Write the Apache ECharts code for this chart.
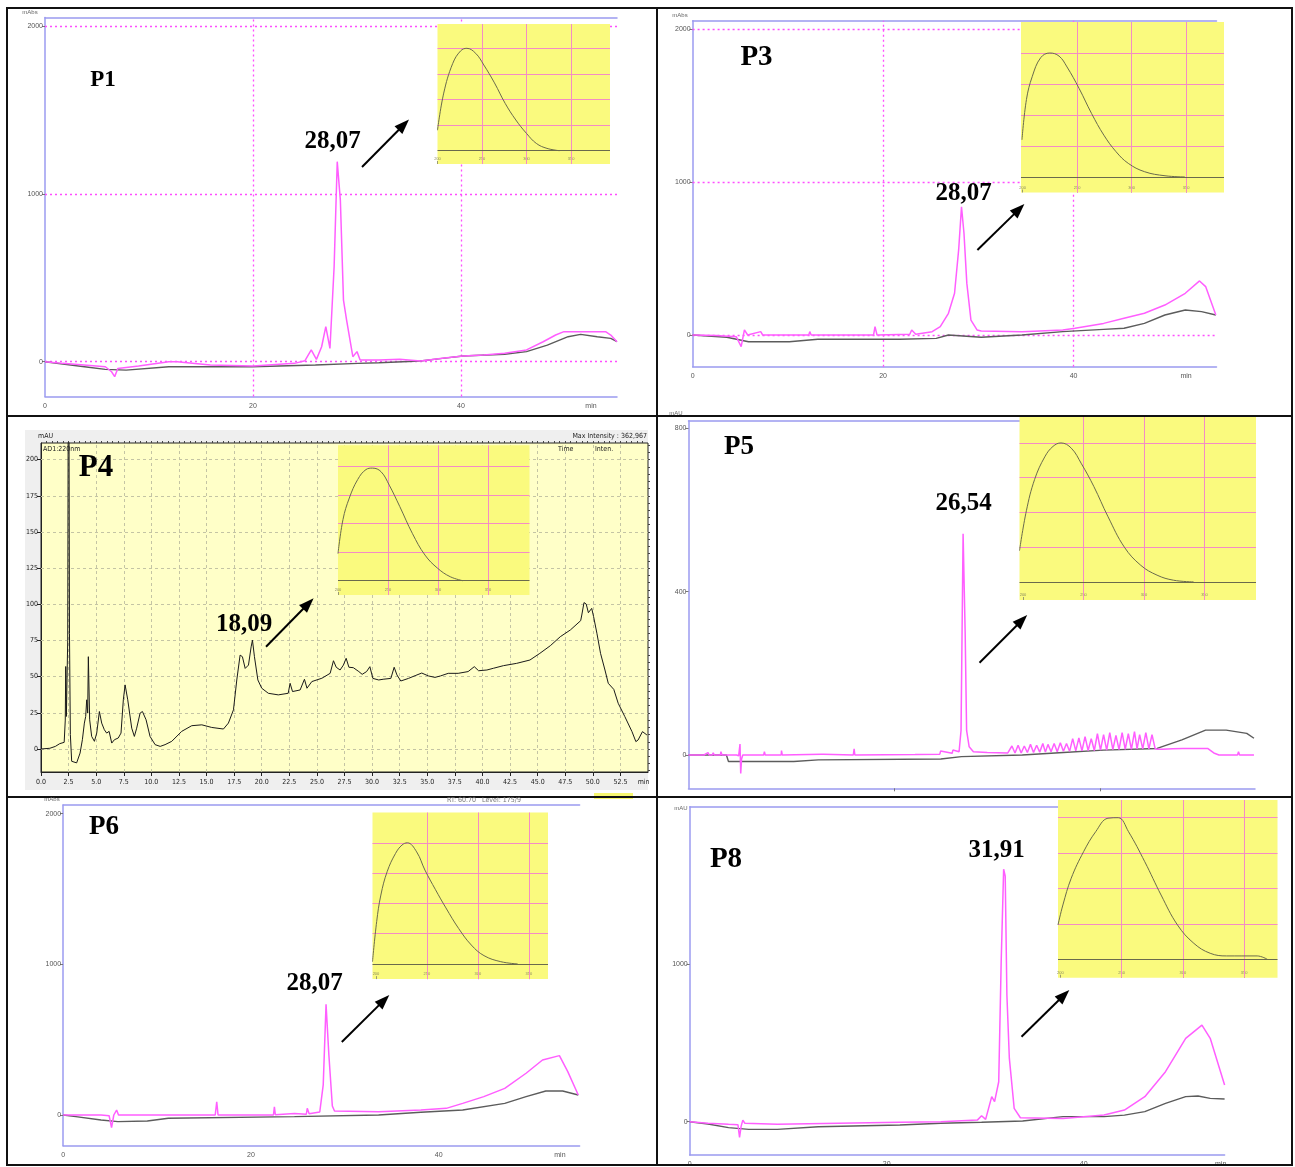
<!DOCTYPE html>
<html><head><meta charset="utf-8">
<script src="https://cdn.jsdelivr.net/npm/echarts@6/dist/echarts.min.js"></script>
<style>html,body{margin:0;padding:0;background:#fff}#c{width:1295px;height:1167px}</style>
</head><body><div id="c"></div>
<script>
// ================= DATA =================
// P1 chromatogram (min, mAbs)
const p1PinkT = [0, 1.7, 3.75, 5.8, 6.4, 6.7, 7.0, 9.0, 11.9, 12.7, 15.9, 20.0, 24.0, 25.0, 25.6, 26.1, 26.6, 27.0, 27.4, 27.8, 28.1, 28.4, 28.7, 29.0, 29.6, 30.0, 30.3, 32.1, 34.1, 36.1, 38.2, 40.2, 42.2, 44.2, 46.3, 47.9, 49.1, 49.9, 53.9, 54.4, 55.0];
const p1PinkV = [0, -10, -20, -30, -60, -89, -40, -26, 0, 0, -20, -26, -10, 6, 70, 14, 89, 209, 79, 566, 1192, 963, 367, 248, 30, 60, 10, 10, 14, 4, 20, 34, 40, 50, 70, 119, 159, 179, 179, 159, 119];
const p1GrayT = [0, 3.8, 5.8, 7.8, 11.9, 19.9, 26.0, 30.1, 32.1, 36.1, 38.2, 40.2, 44.2, 46.3, 48.3, 50.3, 51.5, 53.1, 54.4, 55.0];
const p1GrayV = [0, -30, -46, -50, -30, -30, -20, -10, -6, 4, 20, 34, 44, 60, 99, 149, 163, 149, 139, 119];

// P3
const p3PinkT = [0, 2.44, 4.58, 5.1, 5.44, 5.78, 7.15, 7.36, 12.2, 12.3, 12.45, 19.0, 19.15, 19.36, 22.8, 23.0, 23.43, 25.15, 26.0, 26.86, 27.5, 27.93, 28.23, 28.49, 28.79, 29.22, 29.86, 30.3, 34.58, 38.86, 40.15, 43.15, 45.29, 47.43, 49.58, 51.72, 53.22, 53.86, 54.93];
const p3PinkV = [0, -4, -11, -76, 33, 0, 22, 0, 0, 22, 0, 0, 55, 0, 5, 33, 5, 22, 55, 142, 273, 557, 840, 666, 338, 98, 33, 26, 22, 33, 44, 76, 109, 142, 196, 273, 354, 317, 131];
const p3GrayT = [0, 3.6, 5.87, 10.15, 13.15, 21.72, 25.58, 26.86, 30.3, 34.58, 38.86, 43.15, 45.29, 47.43, 49.58, 51.72, 53.43, 54.93];
const p3GrayV = [0, -15, -44, -44, -28, -28, -22, 0, -15, 0, 22, 37, 44, 76, 131, 164, 153, 131];

// P4 (min, mAU)
const p4Time = [
0.0, 0.8, 1.3, 1.7, 2.1, 2.2, 2.24, 2.3, 2.42, 2.5,
2.58, 2.66, 2.78, 2.93, 3.23, 3.54, 3.75, 3.93, 4.05, 4.14,
4.23, 4.29, 4.41, 4.59, 4.84, 5.05, 5.29, 5.5, 5.74, 5.95,
6.17, 6.41, 6.65, 7.0, 7.25, 7.46, 7.62, 7.86, 8.22, 8.46,
8.67, 8.98, 9.19, 9.52, 9.88, 10.34, 10.8, 11.24, 11.85, 12.75,
13.66, 14.57, 15.47, 16.53, 16.98, 17.44, 17.74, 18.04, 18.25, 18.5,
18.8, 19.04, 19.16, 19.34, 19.65, 20.0, 20.6, 21.5, 22.4, 22.57,
22.79, 23.48, 23.87, 24.1, 24.54, 25.45, 26.2, 26.5, 26.75, 27.1,
27.4, 27.65, 27.9, 28.3, 28.8, 29.1, 29.5, 29.8, 30.07, 30.6,
31.0, 31.7, 32.0, 32.25, 32.6, 33.3, 33.9, 34.5, 35.1, 35.7,
36.2, 36.9, 37.8, 38.7, 39.26, 39.65, 40.4, 41.0, 41.9, 43.1,
44.3, 45.2, 46.15, 47.05, 47.97, 48.9, 49.0, 49.2, 49.4, 49.6,
49.9, 50.07, 50.37, 50.7, 51.1, 51.4, 51.9, 52.3, 52.9, 53.55,
53.9, 54.1, 54.5, 54.9];
const p4Value = [
0, 0.5, 1.8, 3.7, 4.6, 20, 57, 22.5, 75, 363,
80, 10, -8.5, -9.6, -9.6, -2.8, 6.4, 17.9, 22.5, 34,
24.8, 63.8, 20.2, 8.7, 5.3, 11, 25.9, 17.9, 13.3, 11,
12.2, 4.1, 6.4, 7.6, 11, 34, 44.3, 34, 14.4, 8.7,
14.4, 24.8, 25.9, 20.2, 8.7, 3, 1.8, 3, 5.3, 12.2,
16.1, 16.7, 14.9, 13.8, 17.9, 27.1, 47.7, 64.9, 63.8, 55.7,
58, 70.6, 75.2, 63.8, 47.7, 42, 38.5, 37.4, 38.5, 45.4,
39.7, 40.8, 48.2, 42, 46.6, 48.9, 52.3, 61, 56.5, 54.6,
58, 62.7, 56.5, 56.2, 53.5, 51.6, 53.5, 56.9, 48.8, 47.7,
48.2, 48.8, 56.5, 51.2, 47, 48.8, 50.7, 52.5, 50.5, 49.5,
50.5, 52.3, 52.3, 53.5, 56.9, 54.1, 54.6, 55.8, 57.6, 59.2,
61.5, 66.1, 71.4, 77.6, 82.3, 88.7, 92.6, 101.2, 100.2, 94.2,
97.2, 91.5, 80, 66.1, 54.6, 45.4, 41.2, 31.6, 22.4, 12,
5.1, 6.2, 12, 9.7];

// P5
const p5PinkT = [0, 1.5, 1.9, 2.0, 2.3, 2.4, 2.5, 3.1, 3.15, 3.25,
4.67, 4.87, 5.0, 5.07, 5.15, 5.27, 7.3, 7.37, 7.45, 9.0,
9.03, 9.1, 12.9, 13.0, 13.1, 16.0, 16.08, 16.15, 22.0, 22.11,
24.4, 24.48, 25.6, 25.67, 26.27, 26.46, 26.66, 26.86, 27.0, 27.25,
27.66, 29.0, 29.04, 29.1, 31.0, 31.4, 31.7, 32.0, 32.3, 32.6,
32.9, 33.2, 33.5, 33.8, 34.1, 34.4, 34.65, 34.9, 35.2, 35.5,
35.8, 36.1, 36.4, 36.7, 37.0, 37.3, 37.6, 37.9, 38.2, 38.5,
38.8, 39.1, 39.4, 39.7, 40.0, 40.3, 40.6, 40.9, 41.2, 41.5,
41.8, 42.1, 42.4, 42.7, 43.0, 43.3, 43.55, 43.8, 44.1, 44.4,
44.7, 45.0, 45.3, 45.5, 46.0, 47.0, 48.0, 49.0, 50.4, 51.0,
51.5, 52.5, 53.3, 53.4, 53.5, 54.9];
const p5PinkV = [0, 0, 6, 0, 0, 5, 0, 0, 8, 0,
0, -2, 27, -45, -10, 0, 0, 8, 0, 0,
11, 0, 2, 5, 2, 0, 15, 0, 1, 5,
2, 10, 4, 12, 8, 60, 542, 300, 60, 20,
8, 6, 10, 6, 5, 22, 5, 24, 5, 22,
6, 26, 6, 24, 7, 28, 7, 26, 8, 28,
8, 30, 9, 28, 9, 40, 10, 42, 10, 45,
11, 40, 11, 52, 12, 50, 12, 55, 13, 48,
13, 55, 14, 52, 14, 57, 15, 50, 15, 55,
15, 50, 16, 14, 14, 15, 16, 16, 16, 5,
0, 0, 0, 8, 0, 0];
const p5GrayT = [0, 3.68, 3.88, 10.22, 12.6, 24.5, 26.5, 32.4, 36.4, 40.3, 45.5, 47.9, 50.2, 52.2, 54.2, 54.9];
const p5GrayV = [0, 0, -16, -16, -12, -10, -4, 0, 6, 12, 16, 37, 61, 61, 53, 41];

// P6
const p6PinkT = [0, 4.04, 4.9, 5.16, 5.4, 5.7, 5.9, 16.2, 16.36, 16.5, 18.3, 18.4, 18.5, 22.4, 22.5, 22.6, 24.64, 25.9, 26.0, 26.2, 27.33, 27.7, 28.0, 28.3, 28.67, 28.9, 33.6, 38.1, 40.8, 42.55, 44.8, 47.03, 49.3, 51.05, 52.85, 53.74, 54.86];
const p6PinkV = [0, 0, -5, -84, 0, 33, 0, 0, 88, 0, 0, 11, 0, 0, 55, 2, 10, 5, 44, 8, 20, 200, 734, 400, 60, 26, 22, 33, 44, 77, 122, 177, 277, 365, 394, 288, 133];
const p6GrayT = [0, 1.36, 4.04, 5.84, 8.97, 11.2, 24.64, 33.6, 38.1, 42.55, 47.03, 49.3, 51.4, 53.2, 54.86];
const p6GrayV = [0, -11, -33, -44, -40, -22, -11, 0, 18, 33, 77, 122, 159, 159, 133];

// P8
const p8PinkT = [0, 1.86, 3.94, 4.9, 5.06, 5.22, 5.39, 5.6, 8.9, 21.34, 25.5, 29.2, 29.63, 30.04, 30.66, 30.95, 31.37, 31.62, 31.87, 32.03, 32.2, 32.45, 32.94, 33.57, 37.9, 42.06, 44.13, 46.2, 48.3, 50.35, 52.0, 52.84, 54.3];
const p8PinkV = [0, -10, -17, -20, -100, -30, 10, -10, -17, -4, 0, 10, 38, 15, 159, 127, 254, 1017, 1605, 1560, 805, 402, 85, 25, 21, 42, 74, 159, 318, 530, 614, 530, 233];
const p8GrayT = [0, 1.86, 3.94, 6.0, 8.9, 13.05, 21.34, 25.5, 29.63, 33.8, 37.9, 42.06, 44.13, 46.2, 48.3, 50.35, 51.6, 52.84, 54.3];
const p8GrayV = [0, -15, -38, -49, -49, -32, -21, -10, -4, 4, 32, 32, 42, 64, 116, 159, 163, 148, 144];

// UV spectra in the insets (nm, relative absorbance)
const i1Wave = [200, 207, 217, 226, 233, 243, 252, 264, 276, 288, 300, 311, 323, 337];
const i1Abs  = [0.16, 0.45, 0.68, 0.78, 0.80, 0.76, 0.67, 0.53, 0.37, 0.24, 0.135, 0.057, 0.018, 0.0];
const i3Wave = [199.5, 203.6, 209, 216.7, 225, 233.5, 240.8, 252, 263.3, 274.6, 285.8, 297, 312, 330.7, 349];
const i3Abs  = [0.24, 0.50, 0.65, 0.77, 0.80, 0.78, 0.71, 0.57, 0.41, 0.27, 0.163, 0.088, 0.034, 0.008, 0];
const i4Wave = [200, 205, 211.3, 219.7, 228, 234.5, 243, 251.3, 261.8, 274.5, 287, 299.7, 312.3, 325];
const i4Abs  = [0.19, 0.43, 0.58, 0.71, 0.78, 0.79, 0.765, 0.67, 0.52, 0.33, 0.18, 0.087, 0.028, 0.0];
const i5Wave = [197.1, 202.8, 209.6, 218, 224.8, 231.4, 239.9, 248.3, 258.5, 270.3, 283.8, 297.3, 310.8, 324.3, 341];
const i5Abs  = [0.18, 0.41, 0.59, 0.72, 0.78, 0.80, 0.77, 0.68, 0.55, 0.375, 0.20, 0.096, 0.039, 0.01, 0];
const i6Wave = [196.6, 200.7, 204.8, 211, 219.2, 225.5, 230.8, 239.9, 248, 258.4, 268.6, 281, 293.5, 305.9, 322.4, 339];
const i6Abs  = [0.015, 0.28, 0.455, 0.61, 0.73, 0.785, 0.80, 0.74, 0.62, 0.49, 0.37, 0.235, 0.125, 0.055, 0.015, 0];
const i8Wave = [198, 202, 208.8, 218.9, 228.8, 238.8, 247.2, 255.6, 268.9, 282.2, 295.6, 309, 322.3, 335.7, 360.7, 369];
const i8Abs  = [0.194, 0.307, 0.458, 0.608, 0.721, 0.797, 0.80, 0.721, 0.551, 0.363, 0.194, 0.09, 0.034, 0.019, 0.019, 0];

// tick labels / grid positions
const MAIN_Y_TICKS = [0, 1000, 2000];
const P8_Y_TICKS = [0, 1000];
const P5_Y_TICKS = [0, 400, 800];
const MAIN_X_TICKS = [0, 20, 40];
const MAIN_X_GRID = [20, 40];
const P4_X_TICKS = [0, 2.5, 5, 7.5, 10, 12.5, 15, 17.5, 20, 22.5, 25, 27.5, 30, 32.5, 35, 37.5, 40, 42.5, 45, 47.5, 50, 52.5];
const P4_Y_TICKS = [0, 25, 50, 75, 100, 125, 150, 175, 200];
const INSET_X_TICKS = [200, 250, 300, 350];
const INSET_X_GRID = [250, 300, 350];
const INSET_Y_GRID = [0.2, 0.4, 0.6, 0.8];

// ================= LAYOUT / STYLE =================
const SANS = "'Liberation Sans', 'DejaVu Sans', sans-serif";
const NARROW = "'Liberation Sans Narrow', 'DejaVu Sans Condensed', 'Liberation Sans', sans-serif";
const SERIF = "'Liberation Serif', 'DejaVu Serif', serif";
const PINK = '#ff5eff';
const GRAYLINE = '#5c5c5c';
const AXBLUE = '#9b9bf0';
const INSET_YELLOW = '#fafa7e';

const pairs = (t, v) => t.map((x, i) => [x, v[i]]);

const grids = [], xAxes = [], yAxes = [], series = [];

function addMain(cfg) {
  const gi = grids.length;
  grids.push({left: cfg.left, top: cfg.top, width: cfg.width, height: cfg.height, outerBoundsMode: 'none', containLabel: false});
  const xi = xAxes.length;
  const xLabelVals = cfg.xLabels ? cfg.xLabels.concat(cfg.minPos != null ? [cfg.minPos] : []) : [];
  xAxes.push({type: 'value', gridIndex: gi, min: 0, max: cfg.xMax, position: 'bottom',
    axisLine: {show: true, onZero: false, lineStyle: {color: AXBLUE, width: 1.5}},
    axisTick: {show: !!cfg.xTickMarks, customValues: cfg.xTickMarks || [0], length: 3, lineStyle: {color: '#777'}},
    axisLabel: {show: !!cfg.xLabels, customValues: xLabelVals.length ? xLabelVals : [0], fontSize: 7, color: '#555', margin: 6, fontFamily: SANS,
      formatter: v => (v === cfg.minPos ? 'min' : String(v))},
    splitLine: {show: false}});
  xAxes.push({type: 'value', gridIndex: gi, min: 0, max: cfg.xMax, position: 'top',
    axisLine: {show: true, onZero: false, lineStyle: {color: AXBLUE, width: 1.5}},
    axisTick: {show: false}, axisLabel: {show: false}, splitLine: {show: false}});
  const yi = yAxes.length;
  yAxes.push({type: 'value', gridIndex: gi, min: cfg.yMin, max: cfg.yMax, position: 'left',
    axisLine: {show: true, onZero: false, lineStyle: {color: AXBLUE, width: 1.5}},
    axisTick: {show: true, customValues: cfg.yTicks, length: 3, lineStyle: {color: '#777'}},
    axisLabel: {customValues: cfg.yTicks, fontSize: 7, color: '#555', margin: 2, fontFamily: SANS, formatter: v => String(v)},
    splitLine: {show: false}});
  const gray = {type: 'line', xAxisIndex: xi, yAxisIndex: yi, data: pairs(cfg.grayT, cfg.grayV),
    symbol: 'none', lineStyle: {color: GRAYLINE, width: 1.4}, z: 3, silent: true, animation: false};
  if (cfg.gridLines) {
    gray.markLine = {silent: true, z: 2, symbol: ['none', 'none'], label: {show: false}, animation: false,
      lineStyle: {color: '#ff4dff', type: [2, 3], width: 1.3},
      data: cfg.yTicks.map(v => ({yAxis: v})).concat(MAIN_X_GRID.map(v => ({xAxis: v})))};
  }
  series.push(gray);
  series.push({type: 'line', xAxisIndex: xi, yAxisIndex: yi, data: pairs(cfg.pinkT, cfg.pinkV),
    symbol: 'none', lineStyle: {color: PINK, width: 1.5}, z: 4, silent: true, animation: false});
}

function addInset(cfg) {
  const gi = grids.length;
  grids.push({left: cfg.left, top: cfg.top, width: cfg.width, height: cfg.height, outerBoundsMode: 'none',
    show: true, backgroundColor: INSET_YELLOW, borderWidth: 0, z: 50});
  const xi = xAxes.length;
  xAxes.push({type: 'value', gridIndex: gi, min: cfg.xMin, max: cfg.xMax, z: 61,
    axisLine: {show: false, onZero: false},
    axisTick: {show: true, inside: true, customValues: INSET_X_TICKS, length: 3, lineStyle: {color: '#9a9a70'}},
    axisLabel: {inside: true, customValues: INSET_X_TICKS, fontSize: 4, color: '#8a8a60', margin: 3, formatter: v => String(v)},
    splitLine: {show: false}});
  const yi = yAxes.length;
  yAxes.push({type: 'value', gridIndex: gi, min: cfg.yMin, max: cfg.yMax, z: 61, show: false,
    axisLine: {show: false, onZero: false}, splitLine: {show: false}});
  series.push({type: 'line', xAxisIndex: xi, yAxisIndex: yi, data: pairs(cfg.wave, cfg.abs),
    smooth: 0.4, symbol: 'none', lineStyle: {color: '#6a6a4c', width: 1}, z: 63, silent: true, animation: false,
    markLine: {silent: true, z: 62, symbol: ['none', 'none'], label: {show: false}, animation: false,
      lineStyle: {color: '#f48cc4', type: 'solid', width: 1},
      data: INSET_Y_GRID.map(v => ({yAxis: v})).concat(INSET_X_GRID.map(v => ({xAxis: v})))
        .concat([{yAxis: 0, lineStyle: {color: '#6a6a4c', type: 'solid', width: 1}}])}});
}

// ---- main chromatograms ----
addMain({left: 45, top: 17.5, width: 572, height: 379.1, xMax: 55, yMin: -208, yMax: 2051, minPos: 52.5,
  xLabels: MAIN_X_TICKS, yTicks: MAIN_Y_TICKS, gridLines: true,
  pinkT: p1PinkT, pinkV: p1PinkV, grayT: p1GrayT, grayV: p1GrayV});
addMain({left: 692.6, top: 20.7, width: 523.9, height: 346, xMax: 55, yMin: -207.6, yMax: 2058, minPos: 51.8,
  xLabels: MAIN_X_TICKS, yTicks: MAIN_Y_TICKS, gridLines: true,
  pinkT: p3PinkT, pinkV: p3PinkV, grayT: p3GrayT, grayV: p3GrayV});
addMain({left: 688.5, top: 420.7, width: 566.5, height: 367.6, xMax: 55, yMin: -81.6, yMax: 818.8,
  xLabels: null, xTickMarks: MAIN_X_GRID, yTicks: P5_Y_TICKS, gridLines: false,
  pinkT: p5PinkT, pinkV: p5PinkV, grayT: p5GrayT, grayV: p5GrayV});
addMain({left: 63.1, top: 805, width: 516.5, height: 340.7, xMax: 55, yMin: -203.7, yMax: 2057, minPos: 52.9,
  xLabels: MAIN_X_TICKS, yTicks: MAIN_Y_TICKS, gridLines: false,
  pinkT: p6PinkT, pinkV: p6PinkV, grayT: p6GrayT, grayV: p6GrayV});
addMain({left: 689.7, top: 806.7, width: 534.9, height: 348.3, xMax: 54.3, yMin: -211.7, yMax: 2002, minPos: 53.9,
  xLabels: MAIN_X_TICKS, yTicks: P8_Y_TICKS, gridLines: false,
  pinkT: p8PinkT, pinkV: p8PinkV, grayT: p8GrayT, grayV: p8GrayV});

// ---- P4 (different instrument) ----
(function () {
  const gi = grids.length;
  grids.push({left: 41, top: 443, width: 607, height: 329, outerBoundsMode: 'none', show: true,
    backgroundColor: '#ffffc8', borderColor: '#222', borderWidth: 1});
  const xi = xAxes.length;
  const minorX = []; for (let v = 0.5; v < 55; v += 0.5) minorX.push(+v.toFixed(1));
  const minorY = []; for (let v = -15; v <= 210; v += 5) minorY.push(v);
  xAxes.push({type: 'value', gridIndex: gi, min: 0, max: 55,
    axisLine: {show: true, onZero: false, lineStyle: {color: '#222', width: 1}},
    axisTick: {show: true, customValues: P4_X_TICKS, length: 4, lineStyle: {color: '#222'}},
    axisLabel: {customValues: P4_X_TICKS.concat([54.6]), fontSize: 7, color: '#222', margin: 7, fontFamily: NARROW,
      formatter: v => (v === 54.6 ? 'min' : v.toFixed(1))},
    splitLine: {show: false}});
  xAxes.push({type: 'value', gridIndex: gi, min: 0, max: 55,
    axisLine: {show: false, onZero: false}, axisLabel: {show: false}, splitLine: {show: false},
    axisTick: {show: true, customValues: minorX, length: 2, lineStyle: {color: '#444'}}});
  const yi = yAxes.length;
  yAxes.push({type: 'value', gridIndex: gi, min: -15.9, max: 211.5,
    axisLine: {show: true, onZero: false, lineStyle: {color: '#222', width: 1}},
    axisTick: {show: true, customValues: P4_Y_TICKS, length: 4, lineStyle: {color: '#222'}},
    axisLabel: {customValues: P4_Y_TICKS, fontSize: 7, color: '#222', margin: 3, fontFamily: NARROW, formatter: v => String(v)},
    splitLine: {show: false}});
  yAxes.push({type: 'value', gridIndex: gi, min: -15.9, max: 211.5,
    axisLine: {show: false, onZero: false}, axisLabel: {show: false}, splitLine: {show: false},
    axisTick: {show: true, customValues: minorY, length: 2, lineStyle: {color: '#444'}}});
  series.push({type: 'line', xAxisIndex: xi, yAxisIndex: yi, data: pairs(p4Time, p4Value),
    symbol: 'none', lineStyle: {color: '#1a1a1a', width: 1}, z: 4, silent: true, animation: false, clip: true,
    markLine: {silent: true, z: 3, symbol: ['none', 'none'], label: {show: false}, animation: false,
      lineStyle: {color: '#c4c4a4', type: [3, 3], width: 1},
      data: P4_Y_TICKS.map(v => ({yAxis: v})).concat(P4_X_TICKS.slice(1).map(v => ({xAxis: v})))}});
})();

// ---- insets ----
addInset({left: 437.5, top: 24, width: 172.5, height: 140, xMin: 200, xMax: 393.8, yMin: -0.104, yMax: 0.99, wave: i1Wave, abs: i1Abs});
addInset({left: 1021, top: 22, width: 203, height: 170.5, xMin: 198.6, xMax: 384.8, yMin: -0.1, yMax: 1.0, wave: i3Wave, abs: i3Abs});
addInset({left: 338, top: 445.3, width: 191.5, height: 149.7, xMin: 200, xMax: 391.5, yMin: -0.1, yMax: 0.95, wave: i4Wave, abs: i4Abs});
addInset({left: 1019.5, top: 416, width: 236.5, height: 184, xMin: 197.1, xMax: 392.6, yMin: -0.104, yMax: 0.955, wave: i5Wave, abs: i5Abs});
addInset({left: 372.5, top: 812.5, width: 175.5, height: 166.6, xMin: 196.6, xMax: 368.7, yMin: -0.1, yMax: 1.0, wave: i6Wave, abs: i6Abs});
addInset({left: 1058, top: 800, width: 219.5, height: 177.7, xMin: 198, xMax: 377.3, yMin: -0.104, yMax: 0.9, wave: i8Wave, abs: i8Abs});

// ---- annotations (graphic) ----
const g = [];
g.push({type: 'rect', shape: {x: 25, y: 430, width: 623, height: 360}, style: {fill: '#efefef'}, z: -10, silent: true});
g.push({type: 'rect', shape: {x: 594, y: 793, width: 39, height: 6}, style: {fill: '#f8f870'}, z: 90, silent: true});
const hLines = [8, 416, 797, 1165], vLines = [7, 657, 1292];
hLines.forEach(y => g.push({type: 'line', shape: {x1: 6, y1: y, x2: 1293, y2: y}, style: {stroke: '#111', lineWidth: 2}, z: 100, silent: true}));
vLines.forEach(x => g.push({type: 'line', shape: {x1: x, y1: 7, x2: x, y2: 1166}, style: {stroke: '#111', lineWidth: 2}, z: 100, silent: true}));

function txt(x, y, s, font, align, color) {
  g.push({type: 'text', x: x, y: y, z: 101, silent: true,
    style: {text: s, font: font, fill: color || '#000', align: align || 'center', verticalAlign: 'middle'}});
}
txt(103, 80, 'P1', 'bold 23px ' + SERIF);
txt(756.5, 57.5, 'P3', 'bold 29px ' + SERIF);
txt(96, 467.5, 'P4', 'bold 31px ' + SERIF);
txt(739, 447.5, 'P5', 'bold 27px ' + SERIF);
txt(104, 827.5, 'P6', 'bold 27px ' + SERIF);
txt(726, 860, 'P8', 'bold 29px ' + SERIF);
txt(332.5, 142, '28,07', 'bold 25px ' + SERIF);
txt(963.5, 193.5, '28,07', 'bold 25px ' + SERIF);
txt(244, 625, '18,09', 'bold 25px ' + SERIF);
txt(963.5, 504, '26,54', 'bold 25px ' + SERIF);
txt(314.5, 984, '28,07', 'bold 25px ' + SERIF);
txt(996.5, 851, '31,91', 'bold 25px ' + SERIF);
txt(30, 12.5, 'mAbs', '6px ' + SANS, 'center', '#666');
txt(680, 15, 'mAbs', '6px ' + SANS, 'center', '#666');
txt(676, 413, 'mAU', '6px ' + SANS, 'center', '#666');
txt(52, 799.5, 'mAbs', '6px ' + SANS, 'center', '#666');
txt(681, 808, 'mAU', '6px ' + SANS, 'center', '#666');
txt(484, 800.5, 'RT: 60.70   Level: 175/9', '7px ' + NARROW, 'center', '#777');
txt(38, 436, 'mAU', '7px ' + NARROW, 'left', '#222');
txt(43, 449.5, 'AD1:220nm', '7px ' + NARROW, 'left', '#222');
txt(647, 436, 'Max Intensity : 362,967', '7px ' + NARROW, 'right', '#222');
txt(558, 449.5, 'Time', '7px ' + NARROW, 'left', '#222');
txt(595, 449.5, 'Inten.', '7px ' + NARROW, 'left', '#222');

function arrow(x1, y1, x2, y2) {
  const dx = x2 - x1, dy = y2 - y1, L = Math.hypot(dx, dy), ux = dx / L, uy = dy / L;
  const hl = 15, hw = 5.5;
  const bx = x2 - ux * hl, by = y2 - uy * hl;
  g.push({type: 'line', shape: {x1: x1, y1: y1, x2: bx + ux * 2, y2: by + uy * 2}, style: {stroke: '#000', lineWidth: 2}, z: 101, silent: true});
  g.push({type: 'polygon', shape: {points: [[x2, y2], [bx - uy * hw, by + ux * hw], [bx + uy * hw, by - ux * hw]]}, style: {fill: '#000'}, z: 101, silent: true});
}
arrow(362, 167, 409, 119.5);
arrow(977.4, 250, 1024.4, 204);
arrow(266, 646.7, 313.6, 598.3);
arrow(979.5, 662.7, 1027.2, 615);
arrow(341.8, 1042, 389.3, 995);
arrow(1021.5, 1036.7, 1069.3, 990);

const chart = echarts.init(document.getElementById('c'), null, {renderer: 'canvas'});
chart.setOption({
  animation: false,
  backgroundColor: '#ffffff',
  textStyle: {fontFamily: SANS},
  grid: grids, xAxis: xAxes, yAxis: yAxes, series: series,
  graphic: {elements: g}
});
</script>
</body></html>
